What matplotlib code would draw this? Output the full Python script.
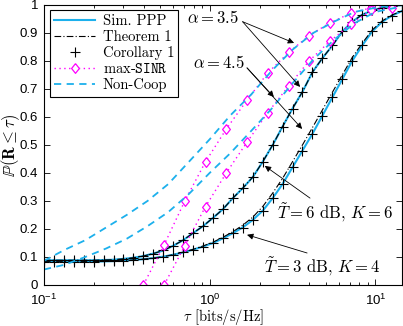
import math

import matplotlib
matplotlib.use('Agg')
import matplotlib.pyplot as plt
import matplotlib.ticker as ticker

# --- DATA ---
# rate threshold grid for the analytical / simulated curves
tau = [0.1, 0.115, 0.132, 0.151, 0.174, 0.200, 0.229, 0.263, 0.302, 0.347,
       0.398, 0.457, 0.525, 0.603, 0.692, 0.794, 0.912, 1.05, 1.20, 1.38,
       1.58, 1.82, 2.09, 2.40, 2.75, 3.16, 3.63, 4.17, 4.79, 5.50,
       6.31, 7.24, 8.32, 9.55, 11.0, 12.6, 14.45]

# T=6 dB, K=6 (alpha=3.5) curve
sim_a = [0.088, 0.088, 0.088, 0.088, 0.088, 0.088, 0.089, 0.090, 0.093, 0.097,
         0.103, 0.112, 0.123, 0.140, 0.160, 0.185, 0.210, 0.240, 0.270, 0.310,
         0.345, 0.385, 0.440, 0.500, 0.565, 0.630, 0.690, 0.760, 0.810, 0.855,
         0.905, 0.940, 0.965, 0.980, 0.990, 0.996, 0.999]
# T=3 dB, K=4 (alpha=4.5) curve
sim_b = [0.083, 0.083, 0.083, 0.083, 0.083, 0.083, 0.084, 0.085, 0.087, 0.089,
         0.092, 0.096, 0.101, 0.108, 0.116, 0.126, 0.137, 0.150, 0.166, 0.185,
         0.205, 0.232, 0.265, 0.310, 0.360, 0.420, 0.480, 0.540, 0.605, 0.670,
         0.735, 0.800, 0.855, 0.905, 0.940, 0.962, 0.978]
thm_b = [0.083, 0.083, 0.083, 0.083, 0.083, 0.083, 0.084, 0.085, 0.087, 0.089,
         0.092, 0.096, 0.101, 0.108, 0.117, 0.127, 0.139, 0.153, 0.170, 0.190,
         0.213, 0.242, 0.280, 0.328, 0.380, 0.440, 0.500, 0.562, 0.625, 0.688,
         0.750, 0.812, 0.863, 0.910, 0.943, 0.964, 0.979]

# grid for the non-coop curves
tau_nc = [0.1, 0.133, 0.178, 0.237, 0.316, 0.422, 0.562, 0.750, 1.0, 1.33,
          1.78, 2.37, 3.16, 4.22, 5.62, 7.50, 10.0, 13.3]
nc_a = [0.086, 0.125, 0.160, 0.205, 0.250, 0.300, 0.360, 0.440, 0.520, 0.605,
        0.680, 0.765, 0.840, 0.900, 0.940, 0.975, 0.990, 1.000]
nc_b = [0.055, 0.072, 0.100, 0.130, 0.165, 0.210, 0.260, 0.325, 0.400, 0.470,
        0.550, 0.630, 0.720, 0.805, 0.875, 0.935, 0.975, 0.990]

# max-SINR points
tau_ms = [0.398, 0.531, 0.708, 0.944, 1.26, 1.68, 2.24, 2.99, 3.98, 5.31,
          7.08, 9.44, 12.6]
ms_a = [0.0, 0.143, 0.300, 0.440, 0.557, 0.660, 0.757, 0.830, 0.890, 0.936,
        0.970, 0.990, 1.000]
ms_b = [0.0, 0.140, 0.280, 0.400, 0.510, 0.615, 0.710, 0.800, 0.870, 0.930,
        0.980, 0.990]

y_ticks = [0, 0.1, 0.2, 0.3, 0.4, 0.5, 0.6, 0.7, 0.8, 0.9, 1]

CYAN = '#1cb0ec'
MAG = '#ff00ff'
DIAMOND = [(0, 1), (0.8, 0), (0, -1), (-0.8, 0), (0, 1)]

plt.rcParams['mathtext.fontset'] = 'cm'
plt.rcParams['axes.unicode_minus'] = False

fig = plt.figure(figsize=(4.03, 3.26), dpi=100)
ax = fig.add_axes([0.109, 0.126, 0.889, 0.859])

# Sim. PPP
ax.plot(tau, sim_a, '-', color=CYAN, lw=1.5, label='Sim. PPP')
ax.plot(tau, sim_b, '-', color=CYAN, lw=1.5)
# Theorem 1
ax.plot(tau, sim_a, color='k', lw=0.8, dashes=(6, 2, 1, 2), label='Theorem 1')
ax.plot(tau, thm_b, color='k', lw=0.8, dashes=(6, 2, 1, 2))
# Corollary 1
ax.plot(tau, sim_a, '+', color='k', ms=7, mew=0.8, label='Corollary 1')
ax.plot(tau, sim_b, '+', color='k', ms=7, mew=0.8)
# max-SINR
ax.plot(tau_ms, ms_a, color=MAG, lw=1.0, ls=(0, (1, 2.5)), marker=DIAMOND,
        ms=7, mfc='white', mec=MAG, mew=0.9, label='max-$\\mathtt{SINR}$')
ax.plot(tau_ms[1:], ms_b, color=MAG, lw=1.0, ls=(0, (1, 2.5)), marker=DIAMOND,
        ms=7, mfc='white', mec=MAG, mew=0.9)
# Non-Coop
ax.plot(tau_nc, nc_a, color=CYAN, lw=1.3, ls=(0, (4, 3)), label='Non-Coop')
ax.plot(tau_nc, nc_b, color=CYAN, lw=1.3, ls=(0, (4, 3)))

ax.set_xscale('log')
ax.set_xlim(0.1, 14.5)
ax.set_ylim(0, 1)
ax.set_yticks(y_ticks)
ax.yaxis.set_major_formatter(ticker.FuncFormatter(lambda v, p: '%g' % v))
ax.xaxis.set_major_formatter(ticker.FuncFormatter(
    lambda v, p: '$\\mathregular{10^{%d}}$' % round(math.log10(v))))
ax.tick_params(which='both', direction='in', top=True, right=True, width=0.6)
ax.tick_params(which='major', length=4, labelsize=9.5)
ax.tick_params(axis='y', which='major', pad=4)
ax.tick_params(axis='x', which='major', pad=6)
ax.tick_params(which='minor', length=2.5)
for lab in ax.get_xticklabels() + ax.get_yticklabels():
    lab.set_fontfamily('Liberation Sans')
for s in ax.spines.values():
    s.set_linewidth(0.8)

ax.set_xlabel('$\\tau$ [bits/s/Hz]', fontfamily='cmr10', fontsize=10.5)
ax.xaxis.set_label_coords(0.5, -0.08)
ax.set_ylabel('$\\mathbb{P}(\\mathbf{R} \\leq \\tau)$', fontsize=12)
ax.yaxis.set_label_coords(-0.062, 0.5)

leg = ax.legend(loc='upper left', bbox_to_anchor=(0.017, 0.982),
                prop={'family': 'cmr10', 'size': 10.5},
                handlelength=2.8, numpoints=1, fancybox=False, framealpha=1,
                borderpad=0.3, labelspacing=0.15, handletextpad=0.5, borderaxespad=0)
leg.get_frame().set_edgecolor('k')
leg.get_frame().set_linewidth(0.8)

arrow = dict(arrowstyle='-|>', color='k', lw=0.6, mutation_scale=9, shrinkA=0, shrinkB=0)
txt = dict(fontfamily='cmr10', fontsize=12, ha='center', va='center')

ax.text(1.04, 0.954, '$\\alpha = 3.5$', **txt)
ax.annotate('', xy=(3.23, 0.864), xytext=(1.58, 0.94), arrowprops=arrow)
ax.annotate('', xy=(3.51, 0.707), xytext=(1.58, 0.94), arrowprops=arrow)

ax.text(1.135, 0.793, '$\\alpha = 4.5$', **txt)
ax.annotate('', xy=(2.44, 0.671), xytext=(1.68, 0.775), arrowprops=arrow)
ax.annotate('', xy=(3.61, 0.557), xytext=(1.68, 0.775), arrowprops=arrow)

ax.text(5.73, 0.257, '$\\tilde{T} = 6$ dB, $K = 6$', **txt)
ax.annotate('', xy=(2.15, 0.425), xytext=(4.03, 0.31), arrowprops=arrow)

ax.text(4.77, 0.064, '$\\tilde{T} = 3$ dB, $K = 4$', **txt)
ax.annotate('', xy=(1.68, 0.179), xytext=(3.87, 0.114), arrowprops=arrow)

fig.savefig('out.png', dpi=100)
